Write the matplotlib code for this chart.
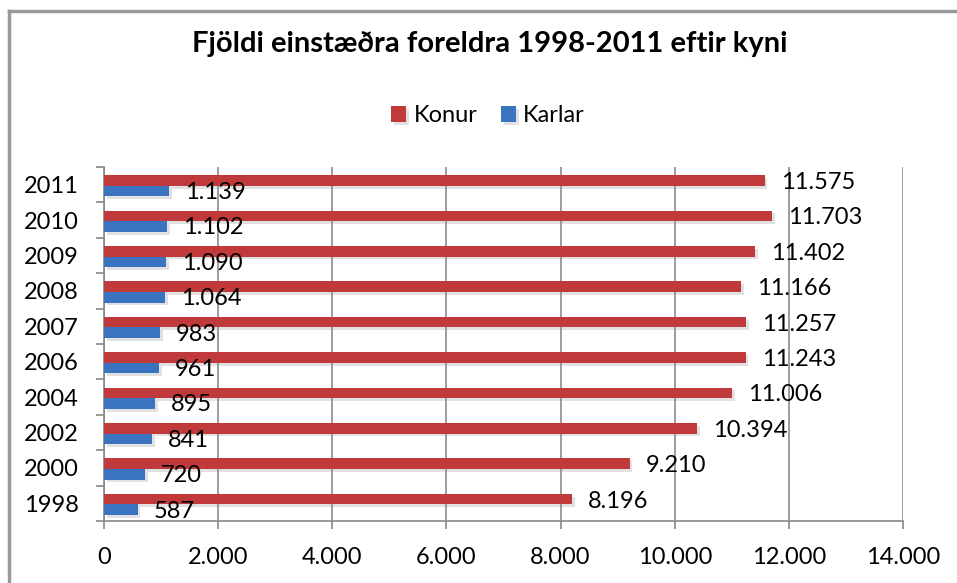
import numpy as np
import matplotlib
matplotlib.use("Agg")
import matplotlib.pyplot as plt
import matplotlib.patheffects as pe
from matplotlib.lines import Line2D
from matplotlib.ticker import FuncFormatter

years = ["1998", "2000", "2002", "2004", "2006", "2007", "2008", "2009", "2010", "2011"]
konur = [8196, 9210, 10394, 11006, 11243, 11257, 11166, 11402, 11703, 11575]
karlar = [587, 720, 841, 895, 961, 983, 1064, 1090, 1102, 1139]

RED = "#C0393B"
BLUE = "#3A73C0"

plt.rcParams["font.family"] = ["Lato", "DejaVu Sans"]


def dot_thousands(v):
    return f"{int(v):,}".replace(",", ".")


fig = plt.figure(figsize=(9.57, 5.83), dpi=100)
W, H = 957, 583
ax = fig.add_axes([104 / W, 1 - 521 / H, (903 - 104) / W, (521 - 167) / H])

y = np.arange(len(years))
h = 0.30
shadow = [pe.SimplePatchShadow(offset=(2, -2), shadow_rgbFace="#888888", alpha=0.25), pe.Normal()]
b_red = ax.barh(y + 0.12, konur, height=h, color=RED, label="Konur", zorder=3)
b_blue = ax.barh(y - 0.18, karlar, height=h, color=BLUE, label="Karlar", zorder=3)
for b in list(b_red) + list(b_blue):
    b.set_path_effects(shadow)

for yy, v in zip(y, konur):
    ax.annotate(dot_thousands(v), (v, yy + 0.06), xytext=(11.5, 0), textcoords="offset points",
                va="center", ha="left", fontsize=17, zorder=5)
for yy, v in zip(y, karlar):
    ax.annotate(dot_thousands(v), (v, yy - 0.22), xytext=(11.5, 0), textcoords="offset points",
                va="center", ha="left", fontsize=17, zorder=5)

ax.set_xlim(0, 14000)
ax.set_ylim(-0.5, len(years) - 0.5)
ax.set_xticks(np.arange(0, 14001, 2000))
ax.xaxis.set_major_formatter(FuncFormatter(lambda v, p: dot_thousands(v)))
ax.set_yticks(y)
ax.set_yticklabels(years)
ax.set_yticks(np.arange(-0.5, len(years), 1), minor=True)
ax.tick_params(axis="y", which="major", length=0, pad=18, labelsize=17)
ax.tick_params(axis="y", which="minor", length=6, width=1.2, color="#888888", direction="out")
ax.tick_params(axis="x", length=6, width=1.2, color="#888888", pad=13, labelsize=17)
ax.grid(axis="x", color="#8c8c8c", linewidth=1.2, zorder=0)
for s in ["top", "right"]:
    ax.spines[s].set_visible(False)
for s in ["left", "bottom"]:
    ax.spines[s].set_color("#888888")
    ax.spines[s].set_linewidth(1.2)

ax.set_title("Fjöldi einstæðra foreldra 1998-2011 eftir kyni", fontsize=21, fontweight="bold",
             x=(490 - 104) / (903 - 104), y=1 + (167 - 52) / (521 - 167), va="center")

fig.legend(handles=[b_red, b_blue], labels=["Konur", "Karlar"], loc="center",
           bbox_to_anchor=(488 / W, 1 - 116 / H), ncol=2, frameon=False, fontsize=17,
           handlelength=0.65, handleheight=0.65, handletextpad=0.3, columnspacing=1.0)

# chart-area border (only top and left visible in the crop)
fig.add_artist(Line2D([9 / W, 9 / W], [0, 1 - 11 / H], color="#999999", linewidth=2.5))
fig.add_artist(Line2D([9 / W, 1], [1 - 11 / H, 1 - 11 / H], color="#999999", linewidth=2.5))

fig.savefig("out.png", dpi=100)
